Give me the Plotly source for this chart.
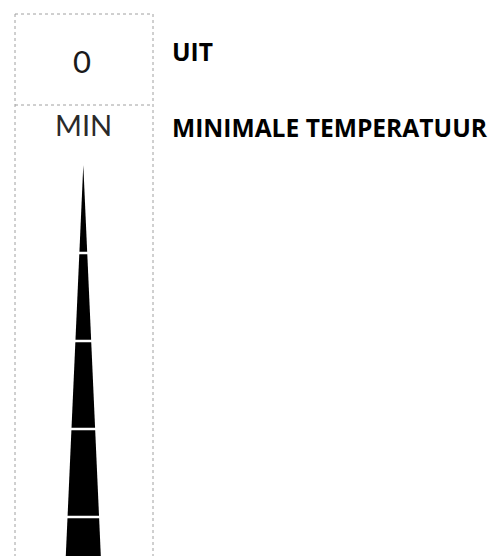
import plotly.graph_objects as go

# ---- data ----
segment_starts = [0, 1, 2, 3, 4]      # dial level where each wedge segment starts
segment_ends = [1, 2, 3, 4, 5]        # dial level where each wedge segment ends
wedge_slope = 0.0448                  # half-width of the wedge per level unit
gap = 0.03                            # white gap between segments (level units)
box_labels = ["0", "MIN"]
side_labels = ["UIT", "MINIMALE TEMPERATUUR"]

W, H = 500, 556
OFF = 8            # page body margin of the HTML page
PX = 88.0          # pixels per level unit
TIP_X, TIP_Y = 83.3 - OFF, 165.0 - OFF

fig = go.Figure()
for s, e in zip(segment_starts, segment_ends):
    top = s + (gap / 2 if s > 0 else 0)
    bot = e - gap / 2
    xs = [-wedge_slope * top, wedge_slope * top, wedge_slope * bot, -wedge_slope * bot, -wedge_slope * top]
    ys = [top, top, bot, bot, top]
    fig.add_trace(go.Scatter(x=xs, y=ys, mode="lines", fill="toself",
                             fillcolor="black", line=dict(width=0, color="black"),
                             hoverinfo="skip", showlegend=False))

def px_x(p):
    return (p - OFF) / W
def px_y(p):
    return 1 - (p - OFF) / H

border = dict(color="#a0a0a0", width=1, dash="dot")
shapes = [
    dict(type="line", xref="paper", yref="paper", x0=px_x(15), x1=px_x(15), y0=px_y(14), y1=px_y(H + 10), line=border),
    dict(type="line", xref="paper", yref="paper", x0=px_x(153), x1=px_x(153), y0=px_y(14), y1=px_y(H + 10), line=border),
    dict(type="line", xref="paper", yref="paper", x0=px_x(15), x1=px_x(153), y0=px_y(14), y1=px_y(14), line=border),
    dict(type="line", xref="paper", yref="paper", x0=px_x(15), x1=px_x(153), y0=px_y(105), y1=px_y(105), line=border),
]

annotations = [
    dict(text=box_labels[0], x=px_x(82), y=px_y(61), xref="paper", yref="paper",
         xanchor="center", yanchor="middle", showarrow=False,
         font=dict(family="Lato", size=31, color="#1a1a1a")),
    dict(text=box_labels[1], x=px_x(83), y=px_y(124), xref="paper", yref="paper",
         xanchor="center", yanchor="middle", showarrow=False,
         font=dict(family="Lato", size=29, color="#2a2a2a")),
    dict(text="<b>%s</b>" % side_labels[0], x=px_x(170), y=px_y(52), xref="paper", yref="paper",
         xanchor="left", yanchor="middle", showarrow=False,
         font=dict(family="Open Sans", size=24.6, color="black")),
    dict(text="<b>%s</b>" % side_labels[1], x=px_x(170), y=px_y(127), xref="paper", yref="paper",
         xanchor="left", yanchor="middle", showarrow=False,
         font=dict(family="Open Sans", size=24.6, color="black")),
]

fig.update_layout(
    width=W, height=H, margin=dict(l=0, r=0, t=0, b=0),
    paper_bgcolor="white", plot_bgcolor="white",
    xaxis=dict(range=[-TIP_X / PX, (W - TIP_X) / PX], visible=False, fixedrange=True),
    yaxis=dict(range=[(H - TIP_Y) / PX, -TIP_Y / PX], visible=False, fixedrange=True),
    shapes=shapes, annotations=annotations,
)
fig.write_html("out.html")
